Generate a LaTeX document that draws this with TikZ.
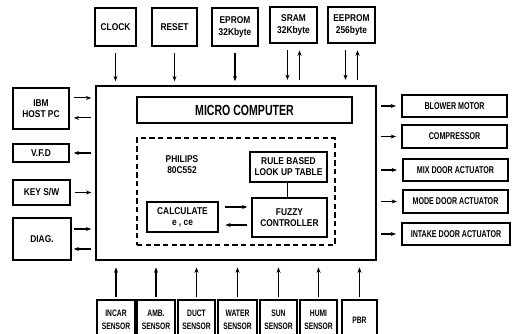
\documentclass[tikz,border=0pt]{standalone}
\usepackage{fontspec}
\newfontfamily\diagfont[FakeStretch=0.85]{Liberation Sans}
\newfontfamily\diagnarrow[FakeStretch=0.72]{Liberation Sans}
\usetikzlibrary{arrows.meta}
\newcommand\pbox[7][]{\node[box,#1, minimum width={(#5-#3)*0.75pt}, minimum height={(#6-#4)*0.75pt}] (#2) at ({(#3+#5)/2},{(#4+#6)/2}) {#7};}
\tikzset{
  box/.style={draw, line width=1.1pt, inner sep=0pt, align=center, font=\diagfont\bfseries\fontsize{7.4}{8.4}\selectfont},
  rbox/.style={font=\diagnarrow\bfseries\fontsize{7.4}{8.4}\selectfont},
  sbox/.style={font=\diagnarrow\bfseries\fontsize{7}{9.5}\selectfont},
  conn/.style={line width=0.8pt, -{Stealth[length=4pt,width=3pt]}},
  plain/.style={line width=0.8pt},
}
\begin{document}
\begin{tikzpicture}[x=0.75pt,y=-0.75pt]
\clip (0,0) rectangle (517,334);
\fill[white] (0,0) rectangle (517,334);
% top
\pbox{clock}{95}{8}{136}{46}{CLOCK}
\pbox{reset}{152}{8}{197}{46}{RESET}
\pbox{eprom}{212}{8}{258}{46}{EPROM\\32Kbyte}
\pbox{sram}{270}{7}{317}{43}{SRAM\\32Kbyte}
\pbox{eeprom}{328}{7}{375}{43}{EEPROM\\256byte}
% main
\pbox{main}{96}{86}{376}{260}{}
\pbox[font=\diagnarrow\bfseries\fontsize{11}{13}\selectfont]{micro}{137}{97}{352}{123}{MICRO COMPUTER}
\pbox[dashed, dash pattern=on 4pt off 2.5pt]{cpu}{137}{138}{335}{245}{}
\node[box, draw=none] (philips) at (182,165) {PHILIPS\\80C552};
\pbox{rule}{250}{152}{327}{182}{RULE BASED\\LOOK UP TABLE}
\pbox{fuzzy}{252}{198}{327}{237}{FUZZY\\CONTROLLER}
\pbox{calc}{147}{202}{218}{232}{CALCULATE\\e , ce}
% left
\pbox{ibm}{13}{88}{69}{129}{IBM\\HOST PC}
\pbox{vfd}{13}{144}{69}{162}{V.F.D}
\pbox{key}{13}{180}{70}{205}{KEY S/W}
\pbox{diag}{13}{218}{71}{260}{DIAG.}
% right
\pbox[rbox]{blower}{402}{95}{507}{117}{BLOWER MOTOR}
\pbox[rbox]{comp}{402}{125}{507}{148}{COMPRESSOR}
\pbox[rbox]{mix}{403}{159}{508}{181}{MIX DOOR ACTUATOR}
\pbox[rbox]{mode}{403}{190}{508}{213}{MODE DOOR ACTUATOR}
\pbox[rbox]{intake}{402}{223}{510}{245}{INTAKE DOOR ACTUATOR}
% bottom
\pbox[sbox]{incar}{97}{300}{135}{340}{INCAR\\SENSOR}
\pbox[sbox]{amb}{137}{300}{175}{340}{AMB.\\SENSOR}
\pbox[sbox]{duct}{178}{300}{215}{340}{DUCT\\SENSOR}
\pbox[sbox]{water}{218}{300}{257}{340}{WATER\\SENSOR}
\pbox[sbox]{sun}{260}{300}{297}{340}{SUN\\SENSOR}
\pbox[sbox]{humi}{300}{300}{337}{340}{HUMI\\SENSOR}
\pbox[sbox]{pbr}{342}{300}{377}{340}{PBR}
% top arrows
\foreach \n in {clock,reset,eprom}
  \draw[conn, shorten <=5pt, shorten >=3pt] (\n.south) -- (\n.south |- main.north);
\foreach \n in {sram,eeprom}{
  \draw[conn, shorten <=5pt, shorten >=4pt] ([xshift=-4.5pt]\n.south) -- ([xshift=-4.5pt]\n.south |- main.north);
  \draw[conn, shorten <=4pt, shorten >=5pt] ([xshift=4.5pt]\n.south |- main.north) -- ([xshift=4.5pt]\n.south);
}
% left arrows
\draw[conn, shorten <=3pt, shorten >=3pt] ([yshift=7.9pt]ibm.east) -- ([yshift=7.9pt]ibm.east -| main.west);
\draw[conn, shorten <=3pt, shorten >=3pt] ([yshift=-7.1pt]ibm.east -| main.west) -- ([yshift=-7.1pt]ibm.east);
\draw[conn, shorten <=3pt, shorten >=3pt] (vfd.east -| main.west) -- (vfd.east);
\draw[conn, shorten <=3pt, shorten >=3pt] (key.east) -- (key.east -| main.west);
\draw[conn, shorten <=1.5pt, shorten >=3pt] ([yshift=7.5pt]diag.east) -- ([yshift=7.5pt]diag.east -| main.west);
\draw[conn, shorten <=3pt, shorten >=1.5pt] ([yshift=-7.5pt]diag.east -| main.west) -- ([yshift=-7.5pt]diag.east);
% right arrows
\foreach \n in {blower,comp,mix,mode,intake}
  \draw[conn, shorten <=3pt, shorten >=4pt] (main.east |- \n.west) -- (\n.west);
% bottom arrows
\foreach \n in {incar,amb,duct,water,sun,humi,pbr}
  \draw[conn, shorten <=2pt, shorten >=5pt] (\n.north) -- (\n.north |- main.south);
% inner
\draw[conn, shorten <=5pt, shorten >=3pt] ([yshift=7.5pt]calc.east) -- ([yshift=7.5pt]calc.east -| fuzzy.west);
\draw[conn, shorten <=3pt, shorten >=5pt] ([yshift=-6pt]calc.east -| fuzzy.west) -- ([yshift=-6pt]calc.east);
\draw[plain] ([xshift=-1.5pt]fuzzy.north) -- ([xshift=-1.5pt]fuzzy.north |- rule.south);
\end{tikzpicture}
\end{document}
